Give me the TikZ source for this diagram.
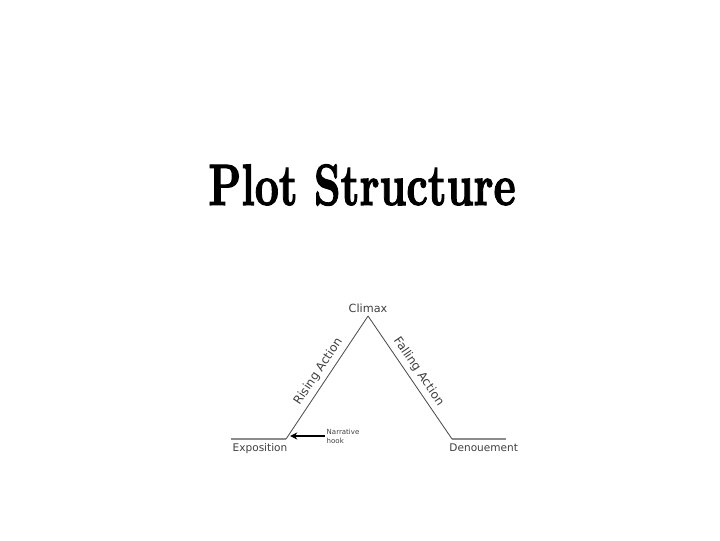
\documentclass[tikz,border=0pt]{standalone}
\usepackage{fontspec}
\setsansfont{DejaVu Sans}
\newfontfamily\titlefont[FakeBold=2]{lmroman10-bold.otf}
\usetikzlibrary{positioning}
\usetikzlibrary{arrows.meta}

\begin{document}
\begin{tikzpicture}[x=0.025cm, y=0.025cm,
    every node/.style = {font=\sffamily\fontsize{7.5}{8.5}\selectfont, inner sep=1pt, text=black!75},
    flat/.style = {draw=black!45, line width=1.4pt},
    slope/.style = {draw=black!70, line width=0.6pt}]
  \useasboundingbox (0,0) rectangle (720,540);
  \node (title) at (362,355) {\scalebox{0.88}[1.22]{\fontsize{34}{40}\selectfont\titlefont\color{black} Plot Structure}};
  % corners of the plot line
  \coordinate (ex) at (231,101);
  \coordinate (hk) at (286,101);
  \coordinate (cl) at (368,224);
  \coordinate (dn) at (452,101);
  \coordinate (end) at (506,101);
  \draw[flat] (ex) -- (hk);
  \draw[flat] (dn) -- (end);
  \draw[slope] (hk) -- node[sloped, above=2pt, font=\sffamily\fontsize{8.5}{9}\selectfont] {Rising Action} (cl);
  \draw[slope] (cl) -- node[sloped, above=2pt, font=\sffamily\fontsize{8.5}{9}\selectfont] {Falling Action} (dn);
  \node (climax) [above=1pt of cl, font=\sffamily\fontsize{8}{9}\selectfont] {Climax};
  \node (expo) [below=2pt of ex, anchor=north west] {Exposition};
  \node (deno) [below=2pt of dn, anchor=north west, xshift=-3pt] {Denouement};
  \node (hook) [align=left, anchor=west, font=\sffamily\fontsize{5}{6.5}\selectfont] at (325,104) {Narrative\\hook};
  \draw[-{Stealth[length=5pt, width=5pt]}, line width=1.4pt] (hook.west) -- ([xshift=3pt]hk |- hook.west);
\end{tikzpicture}
\end{document}
